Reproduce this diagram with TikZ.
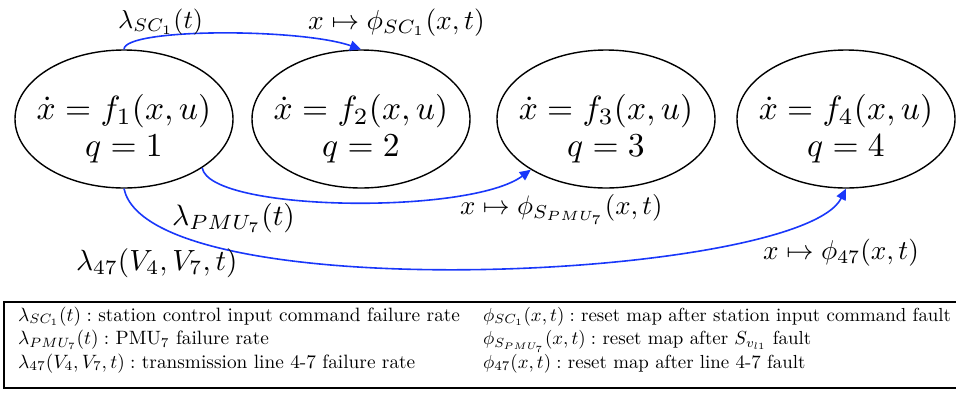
\RequirePackage{fix-cm}
\documentclass[tikz,border=0pt]{standalone}
\usetikzlibrary{shapes.geometric,arrows.meta}
\definecolor{arrblue}{RGB}{25,55,250}
\newcommand{\eqs}[1]{\scalebox{3.35}{$#1$}}
\newcommand{\lab}[2]{\scalebox{#1}{$#2$}}
\newcommand{\leg}[1]{\scalebox{1.93}{#1}}
\newcommand{\legr}[1]{\scalebox{1.89}{#1}}
\begin{document}
\begin{tikzpicture}[x=1pt,y=-1pt,
 state/.style={ellipse,draw,line width=1.4pt,minimum width=218pt,minimum height=138pt,inner sep=0pt},
 eqtext/.style={font=\fontsize{10}{37}\selectfont,align=center,anchor=center,inner sep=0pt},
 lbl/.style={font=\fontsize{10}{12}\selectfont,anchor=base west,inner sep=0pt},
 trans/.style={draw=arrblue,line width=1.6pt,-{Triangle[length=11pt,width=10pt]}},
 legtext/.style={font=\fontsize{10}{12}\selectfont,anchor=base west,inner sep=0pt}]
\useasboundingbox (0,0) rectangle (956,392);
% states
\node[state] (s1) at (124,119) {};
\node[state] (s2) at (361,119) {};
\node[state] (s3) at (606,119) {};
\node[state] (s4) at (846,119) {};
\node[eqtext] (t1) at (s1.center) {\rule{0pt}{45pt}\eqs{\dot x = f_1(x,u)}\\ \eqs{q=1}};
\node[eqtext] (t2) at (s2.center) {\rule{0pt}{45pt}\eqs{\dot x = f_2(x,u)}\\ \eqs{q=2}};
\node[eqtext] (t3) at (s3.center) {\rule{0pt}{45pt}\eqs{\dot x = f_3(x,u)}\\ \eqs{q=3}};
\node[eqtext] (t4) at (s4.center) {\rule{0pt}{45pt}\eqs{\dot x = f_4(x,u)}\\ \eqs{q=4}};
% transitions
\draw[trans] (s1.north) .. controls (124,28) and (300,28) .. (s2.north);
\draw[trans] (s1.-32) .. controls (210,212) and (470,215) .. (s3.-146);
\draw[trans] (s1.south) .. controls (150,310) and (800,280) .. (s4.south);
% labels
\node[lbl] (l1) at (118,28) {\lab{2.6}{\lambda_{SC_1}(t)}};
\node[lbl] (r1) at (308,29) {\lab{2.75}{x\mapsto \phi_{SC_1}(x,t)}};
\node[lbl] (l2) at (172,225) {\lab{2.95}{\lambda_{PMU_7}(t)}};
\node[lbl] (r2) at (460,214) {\lab{2.68}{x\mapsto \phi_{S_{PMU_7}}(x,t)}};
\node[lbl] (l3) at (76,270) {\lab{2.92}{\lambda_{47}(V_4,V_7,t)}};
\node[lbl] (r3) at (763,259) {\lab{2.72}{x\mapsto \phi_{47}(x,t)}};
% legend
\draw[line width=1.2pt] (960,302) -- (4,302) -- (4,388) -- (960,388);
\node[legtext] (g1) at (18,321) {\leg{$\lambda_{SC_1}(t):$ station control input command failure rate}};
\node[legtext] (g2) at (18,344.5) {\leg{$\lambda_{PMU_7}(t):$ PMU$_7$ failure rate}};
\node[legtext] (g3) at (18,368) {\leg{$\lambda_{47}(V_4,V_7,t):$ transmission line 4-7 failure rate}};
\node[legtext] (h1) at (483,321) {\legr{$\phi_{SC_1}(x,t):$ reset map after station input command fault}};
\node[legtext] (h2) at (483,344.5) {\legr{$\phi_{S_{PMU_7}}(x,t):$ reset map after $S_{v_{l1}}$ fault}};
\node[legtext] (h3) at (483,368) {\legr{$\phi_{47}(x,t):$ reset map after line 4-7 fault}};
\end{tikzpicture}
\end{document}
